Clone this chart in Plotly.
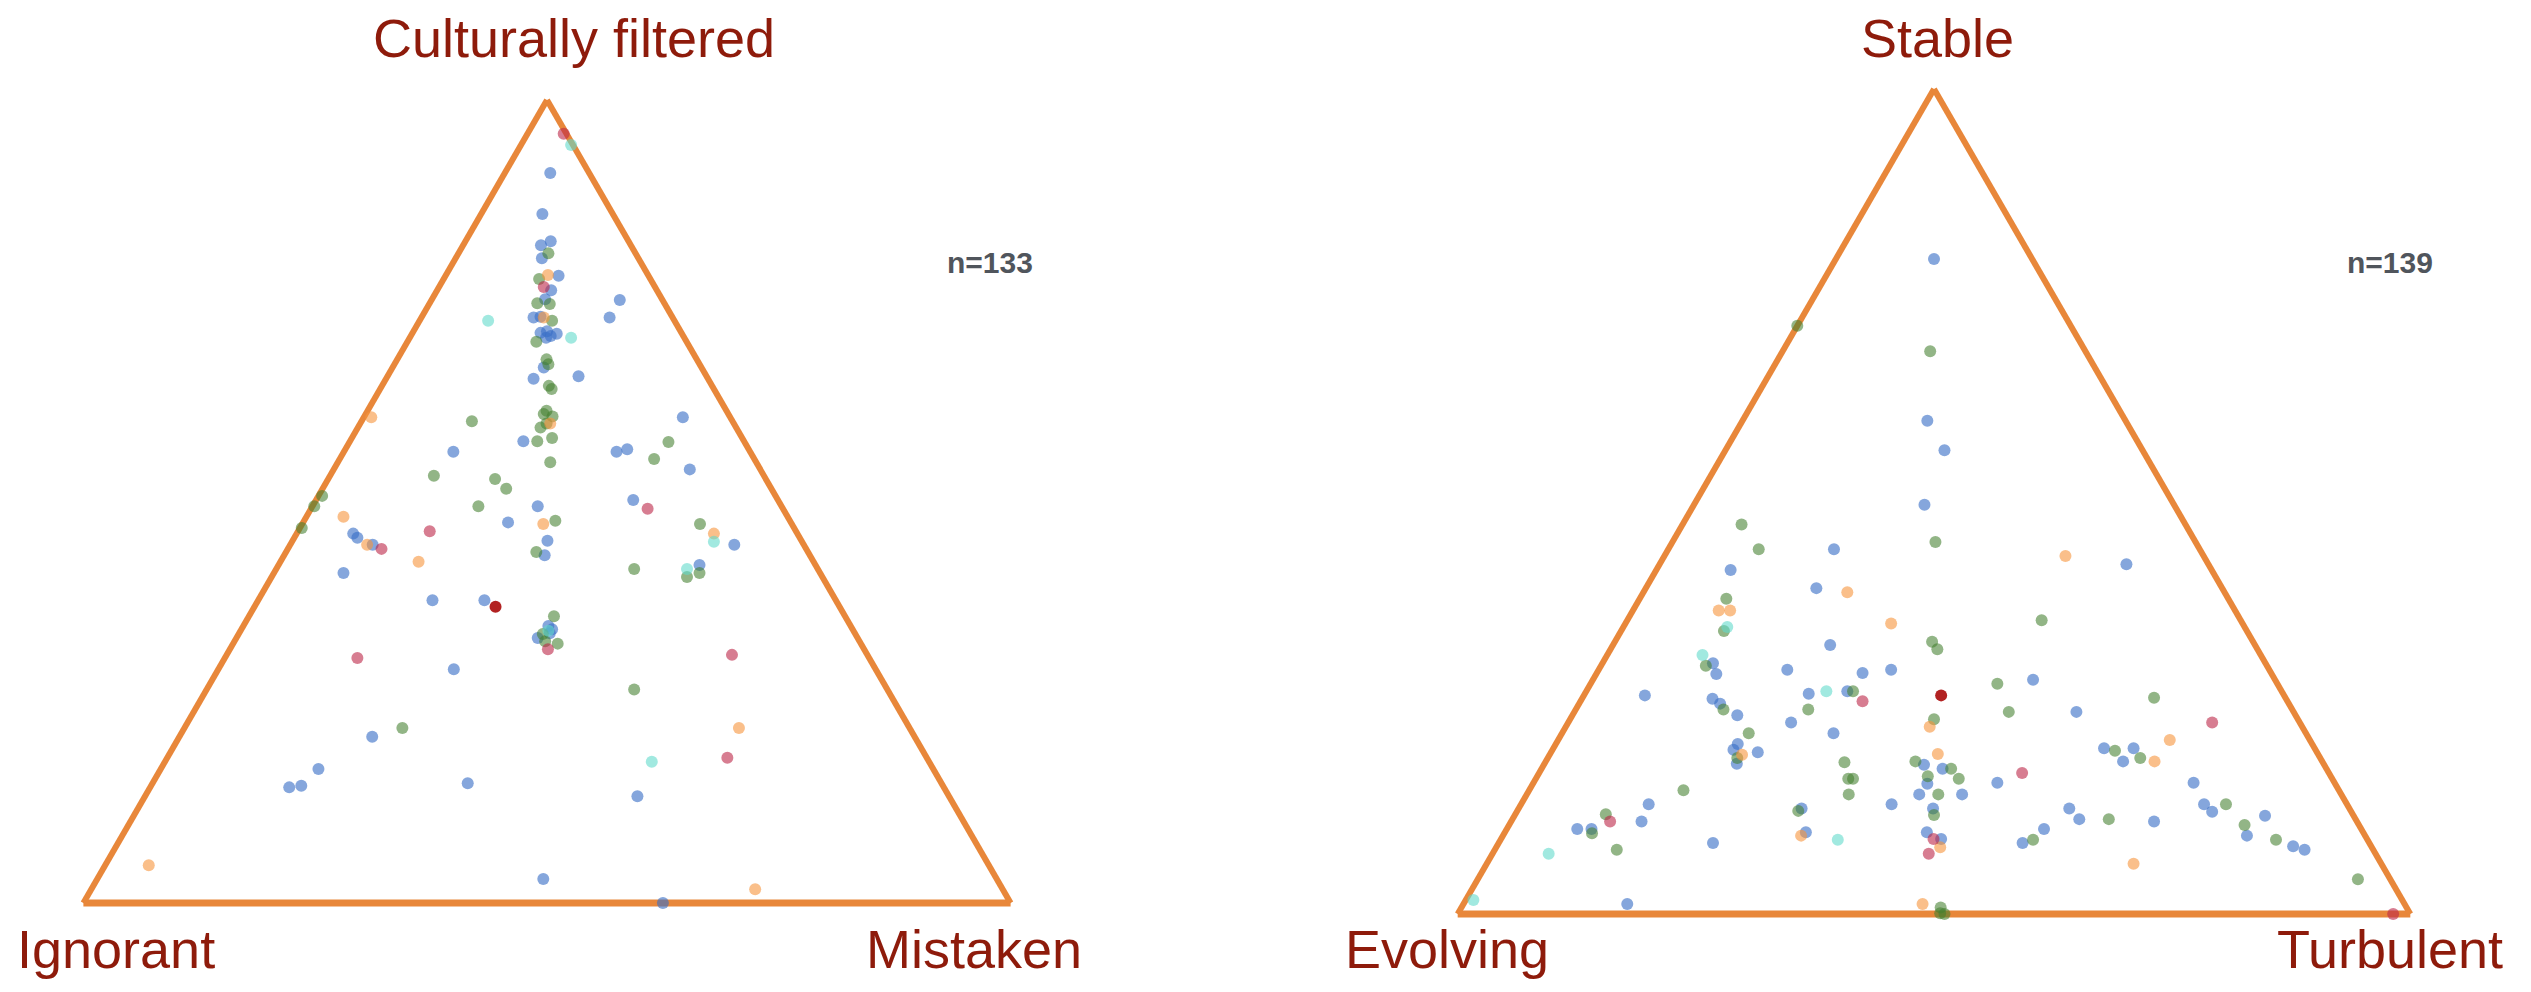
import plotly.graph_objects as go

# ---------------- Left triangle: a = Culturally filtered, b = Ignorant, c = Mistaken (percent) ----------------
left_blue_a = [90.9, 85.8, 82.4, 81.9, 80.3, 78.1, 76.3, 75.2, 72.9, 73.0, 71.0, 70.6, 70.9, 70.4, 71.2,
               66.7, 65.3, 57.5, 49.4, 47.4, 45.1, 43.3, 34.5, 33.0, 34.1, 33.6, 3.0,
               75.1, 72.9, 65.6, 56.2, 56.2, 56.5, 60.5, 54.0, 50.2, 46.0, 45.5, 44.6, 41.1, 37.7,
               37.7, 29.1, 20.7, 16.7, 14.4, 14.6, 14.9, 44.6, 42.1, 13.3, 0.0]
left_blue_c = [4.9, 6.6, 9.2, 8.4, 9.3, 12.2, 12.3, 12.2, 12.1, 12.8, 13.8, 15.1, 15.6, 14.7, 14.4,
               16.3, 15.9, 18.7, 24.3, 22.1, 27.5, 28.1, 32.9, 32.5, 33.5, 33.5, 48.1,
               20.3, 20.3, 20.6, 11.8, 29.4, 30.4, 34.4, 38.4, 34.2, 6.1, 6.8, 8.9, 7.5, 18.8,
               24.4, 25.4, 20.8, 17.0, 15.0, 16.2, 34.0, 47.9, 45.4, 53.1, 62.5]

left_green_a = [80.9, 77.7, 74.7, 74.6, 72.5, 69.9, 67.7, 67.1, 64.4, 64.0, 61.3, 60.9, 60.6, 59.7,
                59.2, 57.5, 57.9, 54.9, 47.6, 43.7, 35.7, 33.5, 32.3, 32.6,
                60.0, 53.2, 52.8, 51.6, 50.7, 49.4, 49.4, 46.7, 57.4, 55.3, 47.2, 41.6, 40.6, 41.1,
                21.8, 26.6]
left_green_c = [9.7, 10.3, 11.6, 13.0, 14.3, 13.9, 16.1, 16.6, 18.0, 18.5, 19.3, 19.2, 20.3, 20.1,
                19.7, 20.2, 21.6, 22.9, 27.1, 27.0, 32.9, 32.8, 35.0, 33.5,
                11.9, 11.2, 18.0, 19.8, 0.4, 0.2, 17.9, 0.2, 34.4, 33.9, 42.9, 38.6, 44.8, 45.9,
                23.5, 46.1]

left_orange_a = [78.2, 72.9, 59.7, 47.2, 60.5, 48.1, 44.6, 42.5, 46.0, 21.8, 4.7, 1.7]
left_orange_c = [11.0, 13.2, 20.5, 26.0, 0.8, 4.0, 8.3, 14.9, 45.0, 59.8, 4.7, 71.6]

left_red_a = [76.7, 31.6, 95.8, 46.3, 44.1, 30.5, 49.1, 30.9, 18.1]
left_red_c = [11.3, 34.3, 3.9, 14.2, 10.1, 14.3, 36.3, 54.5, 60.4]

left_cyan_a = [33.9, 94.4, 72.5, 70.4, 45.0, 41.6, 17.6]
left_cyan_c = [33.2, 5.4, 7.4, 17.4, 45.5, 44.3, 52.5]

left_darkred_a = [36.9]
left_darkred_c = [26.0]

# ---------------- Right triangle: a = Stable, b = Evolving, c = Turbulent (percent) ----------------
right_blue_a = [79.4, 59.8, 56.2, 49.6, 44.2, 41.7, 39.5, 32.6, 30.4, 29.1, 29.6, 29.2, 29.6, 26.5,
                27.0, 26.7, 26.1, 25.5, 24.1, 23.2, 21.9, 20.6, 19.9, 18.2, 19.6, 18.1, 15.8, 14.5,
                13.3, 13.3, 12.8, 12.8, 11.2, 10.3, 10.3, 9.9, 9.9, 9.1, 8.6, 1.2, 42.4, 28.4, 24.5,
                20.1, 20.1, 18.5, 17.6, 15.9, 14.5, 15.9, 13.3, 12.4, 11.9, 9.5, 8.2, 7.8, 12.8,
                11.5, 11.2, 10.3, 8.6]
right_blue_c = [10.3, 19.4, 23.0, 24.2, 17.4, 7.8, 17.9, 22.8, 11.6, 12.6, 19.8, 27.9, 30.7, 6.4,
                27.4, 23.5, 13.7, 14.8, 17.3, 23.4, 28.5, 19.1, 19.0, 20.2, 21.7, 39.9, 41.4, 41.2,
                13.4, 38.9, 43.5, 29.7, 13.7, 7.4, 8.9, 31.6, 44.3, 46.2, 22.5, 17.2, 49.0, 46.2, 52.7,
                57.8, 60.9, 60.6, 42.1, 48.7, 45.7, 69.3, 71.7, 73.0, 78.8, 78.1, 83.6, 85.0, 57.8,
                59.5, 67.5, 56.4, 55.0]

right_green_a = [71.3, 68.2, 47.2, 44.2, 45.1, 38.2, 34.3, 33.0, 32.1, 30.1, 27.0, 24.8, 24.8, 23.6,
                 21.9, 18.9, 18.4, 18.5, 16.4, 16.4, 16.7, 14.5, 15.0, 12.0, 12.5, 12.1, 9.8, 7.8,
                 0.8, 0.1, 0.0, 35.6, 27.9, 26.2, 24.5, 19.8, 18.9, 17.6, 16.4, 14.5, 13.3, 10.8,
                 9.0, 11.5, 9.0, 4.2]
right_green_c = [0.0, 15.5, 6.2, 9.5, 27.6, 9.1, 10.8, 33.3, 34.3, 11.0, 28.0, 24.4, 15.5, 38.2,
                 19.6, 19.9, 31.4, 38.8, 32.8, 33.3, 41.0, 33.8, 16.2, 44.0, 29.5, 9.5, 9.2, 12.8,
                 50.3, 50.6, 51.1, 43.5, 42.7, 60.0, 45.6, 59.1, 62.2, 43.0, 44.4, 43.2, 74.0, 77.2,
                 81.4, 62.6, 55.9, 92.4]

right_orange_a = [39.0, 36.8, 36.8, 35.2, 22.7, 19.3, 19.4, 9.5, 8.1, 1.2, 43.4, 21.1, 18.5, 6.1]
right_orange_c = [21.4, 9.0, 10.2, 27.9, 38.2, 20.2, 40.7, 31.3, 46.6, 48.2, 42.1, 64.2, 63.9, 67.9]

right_red_a = [25.8, 11.2, 9.1, 7.3, 23.2, 17.1, 0.0]
right_red_c = [29.6, 10.4, 45.4, 45.8, 67.6, 50.7, 98.2]

right_cyan_a = [34.8, 31.4, 27.0, 9.0, 7.3, 1.7]
right_cyan_c = [10.9, 10.0, 25.2, 35.4, 5.9, 0.8]

right_darkred_a = [26.5]
right_darkred_c = [37.5]

left_titles = ["Culturally filtered", "Ignorant", "Mistaken"]
right_titles = ["Stable", "Evolving", "Turbulent"]
left_n = "n=133"
right_n = "n=139"

# ---------------- styling ----------------
EDGE = "#e8873a"
TITLE_COLOR = "#8e1b0b"
FONT = "Liberation Sans, Arial, Helvetica, sans-serif"

groups = [
    ("blue", "#3a70c6", 0.62),
    ("green", "#44802e", 0.58),
    ("orange", "#f7943c", 0.6),
    ("red", "#bd2647", 0.6),
    ("cyan", "#62dacb", 0.6),
    ("darkred", "#aa0a0a", 0.9),
]
left_data = {
    "blue": (left_blue_a, left_blue_c), "green": (left_green_a, left_green_c),
    "orange": (left_orange_a, left_orange_c), "red": (left_red_a, left_red_c),
    "cyan": (left_cyan_a, left_cyan_c), "darkred": (left_darkred_a, left_darkred_c),
}
right_data = {
    "blue": (right_blue_a, right_blue_c), "green": (right_green_a, right_green_c),
    "orange": (right_orange_a, right_orange_c), "red": (right_red_a, right_red_c),
    "cyan": (right_cyan_a, right_cyan_c), "darkred": (right_darkred_a, right_darkred_c),
}

fig = go.Figure()
for subplot, data in (("ternary", left_data), ("ternary2", right_data)):
    for name, color, op in groups:
        a, c = data[name]
        fig.add_trace(go.Scatterternary(
            a=a, c=c, mode="markers", subplot=subplot, name=name,
            cliponaxis=False, showlegend=False, hoverinfo="skip",
            marker=dict(size=12, color=color, opacity=op, line=dict(width=0)),
        ))

# page body has an 8px margin; the figure is sized to fill the rest of the window
OFF = 8
W, H = 2531 - 2 * OFF, 992 - 2 * OFF


def px(x):
    return (x - OFF) / W


def py(y):
    return 1 - (y - OFF) / H


def axis(lw):
    return dict(showline=True, linecolor=EDGE, linewidth=lw, showgrid=False,
                showticklabels=False, ticks="", title=dict(text=""), layer="below traces")


fig.update_layout(
    width=W, height=H, margin=dict(l=0, r=0, t=0, b=0),
    paper_bgcolor="white", plot_bgcolor="white",
    ternary=dict(domain=dict(x=[px(83), px(1011)], y=[py(903), py(100)]), sum=100,
                 bgcolor="white", aaxis=axis(6), baxis=axis(7), caxis=axis(6)),
    ternary2=dict(domain=dict(x=[px(1457), px(2411)], y=[py(914), py(89)]), sum=100,
                  bgcolor="white", aaxis=axis(6), baxis=axis(7), caxis=axis(6)),
)

title_pos = [
    (left_titles[0], 574, 38), (left_titles[1], 116, 949), (left_titles[2], 974, 949),
    (right_titles[0], 1937, 38), (right_titles[1], 1447, 949), (right_titles[2], 2390, 949),
]
for text, x, y in title_pos:
    fig.add_annotation(text=text, x=px(x), y=py(y), xref="paper", yref="paper",
                       xanchor="center", yanchor="middle", showarrow=False,
                       font=dict(family=FONT, size=54, color=TITLE_COLOR))
for text, x in ((left_n, 990), (right_n, 2390)):
    fig.add_annotation(text="<b>" + text + "</b>", x=px(x), y=py(263), xref="paper", yref="paper",
                       xanchor="center", yanchor="middle", showarrow=False,
                       font=dict(family=FONT, size=30, color="#50555c"))

fig.write_html("out.html")
